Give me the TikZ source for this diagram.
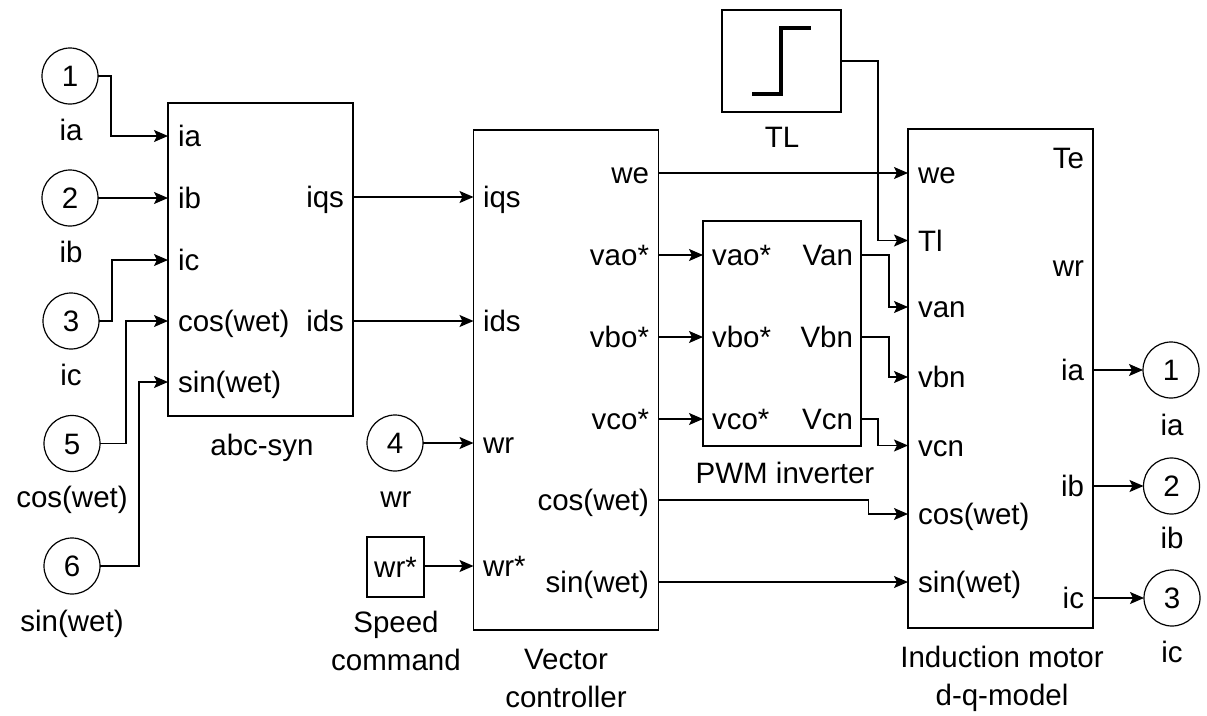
\documentclass[tikz,border=0pt]{standalone}
\usepackage{fontspec}
\setmainfont{Liberation Sans}
\usetikzlibrary{arrows.meta}
\tikzset{
 every node/.style={font=\fontsize{29.5}{38}\selectfont,inner sep=0pt,outer sep=0pt},
 wire/.style={line width=1.3pt,-{Stealth[length=14pt,width=12pt,inset=3pt]}},
 txt/.style={text height=21pt,text depth=0pt,anchor=center},
 portin/.style={text height=21pt,text depth=0pt,anchor=west},
 portout/.style={text height=21pt,text depth=0pt,anchor=east},
 blockbox/.style={draw,line width=1.3pt,rectangle,anchor=north west},
 circ/.style={draw,line width=1.2pt,circle,minimum size=56pt,text height=21pt,text depth=0pt},
 two/.style={align=center,anchor=center},
}
\begin{document}
\begin{tikzpicture}[x=1pt,y=-1pt]
\useasboundingbox (0,0) rectangle (1207,715);
% blocks
\node[blockbox,minimum width=185pt,minimum height=313pt] (abc) at (168,103) {};
\node[blockbox,minimum width=185pt,minimum height=500pt] (vc) at (473.5,130) {};
\node[blockbox,minimum width=158pt,minimum height=225pt] (pwm) at (703,221) {};
\node[blockbox,minimum width=185pt,minimum height=499pt] (im) at (908,129) {};
\node[blockbox,minimum width=119pt,minimum height=102pt] (tl) at (722,10) {};
\node[blockbox,minimum width=57pt,minimum height=60pt,text height=21pt,text depth=0pt] (cmd) at (367,537) {wr*};
% step icon
\draw[line width=4pt,line join=miter] (752,94) -- (781,94) -- (781,28) -- (811,28);
% inports
\node[circ] (c1) at (70,76) {1};
\node[circ] (c2) at (70,198) {2};
\node[circ] (c3) at (71,321) {3};
\node[circ] (c5) at (72,443.5) {5};
\node[circ] (c6) at (72,566) {6};
\node[circ] (c4) at (395,443) {4};
\node[txt] (l1) at (71,130) {ia};
\node[txt] (l2) at (71,252) {ib};
\node[txt] (l3) at (71,375) {ic};
\node[txt] (l5) at (72,497) {cos(wet)};
\node[txt] (l6) at (72,621) {sin(wet)};
\node[txt] (l4) at (396,497) {wr};
% outports
\node[circ] (o1) at (1171,370) {1};
\node[circ] (o2) at (1171.5,486) {2};
\node[circ] (o3) at (1172,598) {3};
\node[txt] (lo1) at (1172,425) {ia};
\node[txt] (lo2) at (1172,538) {ib};
\node[txt] (lo3) at (1172,652) {ic};
% block labels
\node[txt] (labc) at (262,445) {abc-syn};
\node[txt] (ltl) at (782,137) {TL};
\node[txt] (lpwm) at (785,473) {PWM inverter};
\node[two] (lcmd) at (396,641) {Speed\\command};
\node[two] (lvc) at (566,678) {Vector\\controller};
\node[two] (lim) at (1002,679) {Induction motor\\d-q-model};
% abc ports
\node[portin] (abcia) at (178,136) {ia};
\node[portin] (abcib) at (178,198) {ib};
\node[portin] (abcic) at (178,260) {ic};
\node[portin] (abccos) at (178,321) {cos(wet)};
\node[portin] (abcsin) at (178,382) {sin(wet)};
\node[portout] (abciqs) at (344,197) {iqs};
\node[portout] (abcids) at (344,321) {ids};
% vc ports
\node[portin] (vciqs) at (483,197) {iqs};
\node[portin] (vcids) at (483,321) {ids};
\node[portin] (vcwr) at (483,443) {wr};
\node[portin] (vcwrs) at (483,566) {wr*};
\node[portout] (vcwe) at (649,173) {we};
\node[portout] (vcvao) at (649,255) {vao*};
\node[portout] (vcvbo) at (649,337) {vbo*};
\node[portout] (vcvco) at (649,419) {vco*};
\node[portout] (vccos) at (649,500) {cos(wet)};
\node[portout] (vcsin) at (649,582) {sin(wet)};
% pwm ports
\node[portin] (pao) at (712,255) {vao*};
\node[portin] (pbo) at (712,337) {vbo*};
\node[portin] (pco) at (712,419) {vco*};
\node[portout] (pan) at (853,255) {Van};
\node[portout] (pbn) at (853,337) {Vbn};
\node[portout] (pcn) at (853,419) {Vcn};
% im ports
\node[portin] (imwe) at (918,173) {we};
\node[portin] (imtl) at (918,240.5) {Tl};
\node[portin] (iman) at (918,307) {van};
\node[portin] (imbn) at (918,377) {vbn};
\node[portin] (imcn) at (918,445.5) {vcn};
\node[portin] (imcos) at (918,514) {cos(wet)};
\node[portin] (imsin) at (918,582) {sin(wet)};
\node[portout] (imte) at (1084,158) {Te};
\node[portout] (imwr) at (1084,266) {wr};
\node[portout] (imia) at (1084,370) {ia};
\node[portout] (imib) at (1084,486) {ib};
\node[portout] (imic) at (1084,598) {ic};
% connectors: into abc
\draw[wire] (c1.east) -- ++(13,0) |- (abc.west |- abcia);
\draw[wire] (c2.east) -- (abc.west |- abcib);
\draw[wire] (c3.east) -- ++(13,0) |- (abc.west |- abcic);
\draw[wire] (c5.east) -- ++(26,0) |- (abc.west |- abccos);
\draw[wire] (c6.east) -- ++(39,0) |- (abc.west |- abcsin);
% abc to vc
\draw[wire] (abc.east |- abciqs) -- (vc.west |- vciqs);
\draw[wire] (abc.east |- abcids) -- (vc.west |- vcids);
\draw[wire] (c4.east) -- (vc.west |- vcwr);
\draw[wire] (cmd.east |- vcwrs) -- (vc.west |- vcwrs);
% vc to pwm and im
\draw[wire] (vc.east |- vcwe) -- (im.west |- imwe);
\draw[wire] (vc.east |- vcvao) -- (pwm.west |- pao);
\draw[wire] (vc.east |- vcvbo) -- (pwm.west |- pbo);
\draw[wire] (vc.east |- vcvco) -- (pwm.west |- pco);
\draw[wire] (vc.east |- vccos) -- ++(210,0) |- (im.west |- imcos);
\draw[wire] (vc.east |- vcsin) -- (im.west |- imsin);
% pwm to im
\draw[wire] (pwm.east |- pan) -- ++(28,0) |- (im.west |- iman);
\draw[wire] (pwm.east |- pbn) -- ++(28,0) |- (im.west |- imbn);
\draw[wire] (pwm.east |- pcn) -- ++(17,0) |- (im.west |- imcn);
% TL
\draw[wire] (tl.east |- 0,61) -- ++(37,0) |- (im.west |- imtl);
% outputs
\draw[wire] (im.east |- imia) -- (o1.west);
\draw[wire] (im.east |- imib) -- (o2.west);
\draw[wire] (im.east |- imic) -- (o3.west);
\end{tikzpicture}
\end{document}
